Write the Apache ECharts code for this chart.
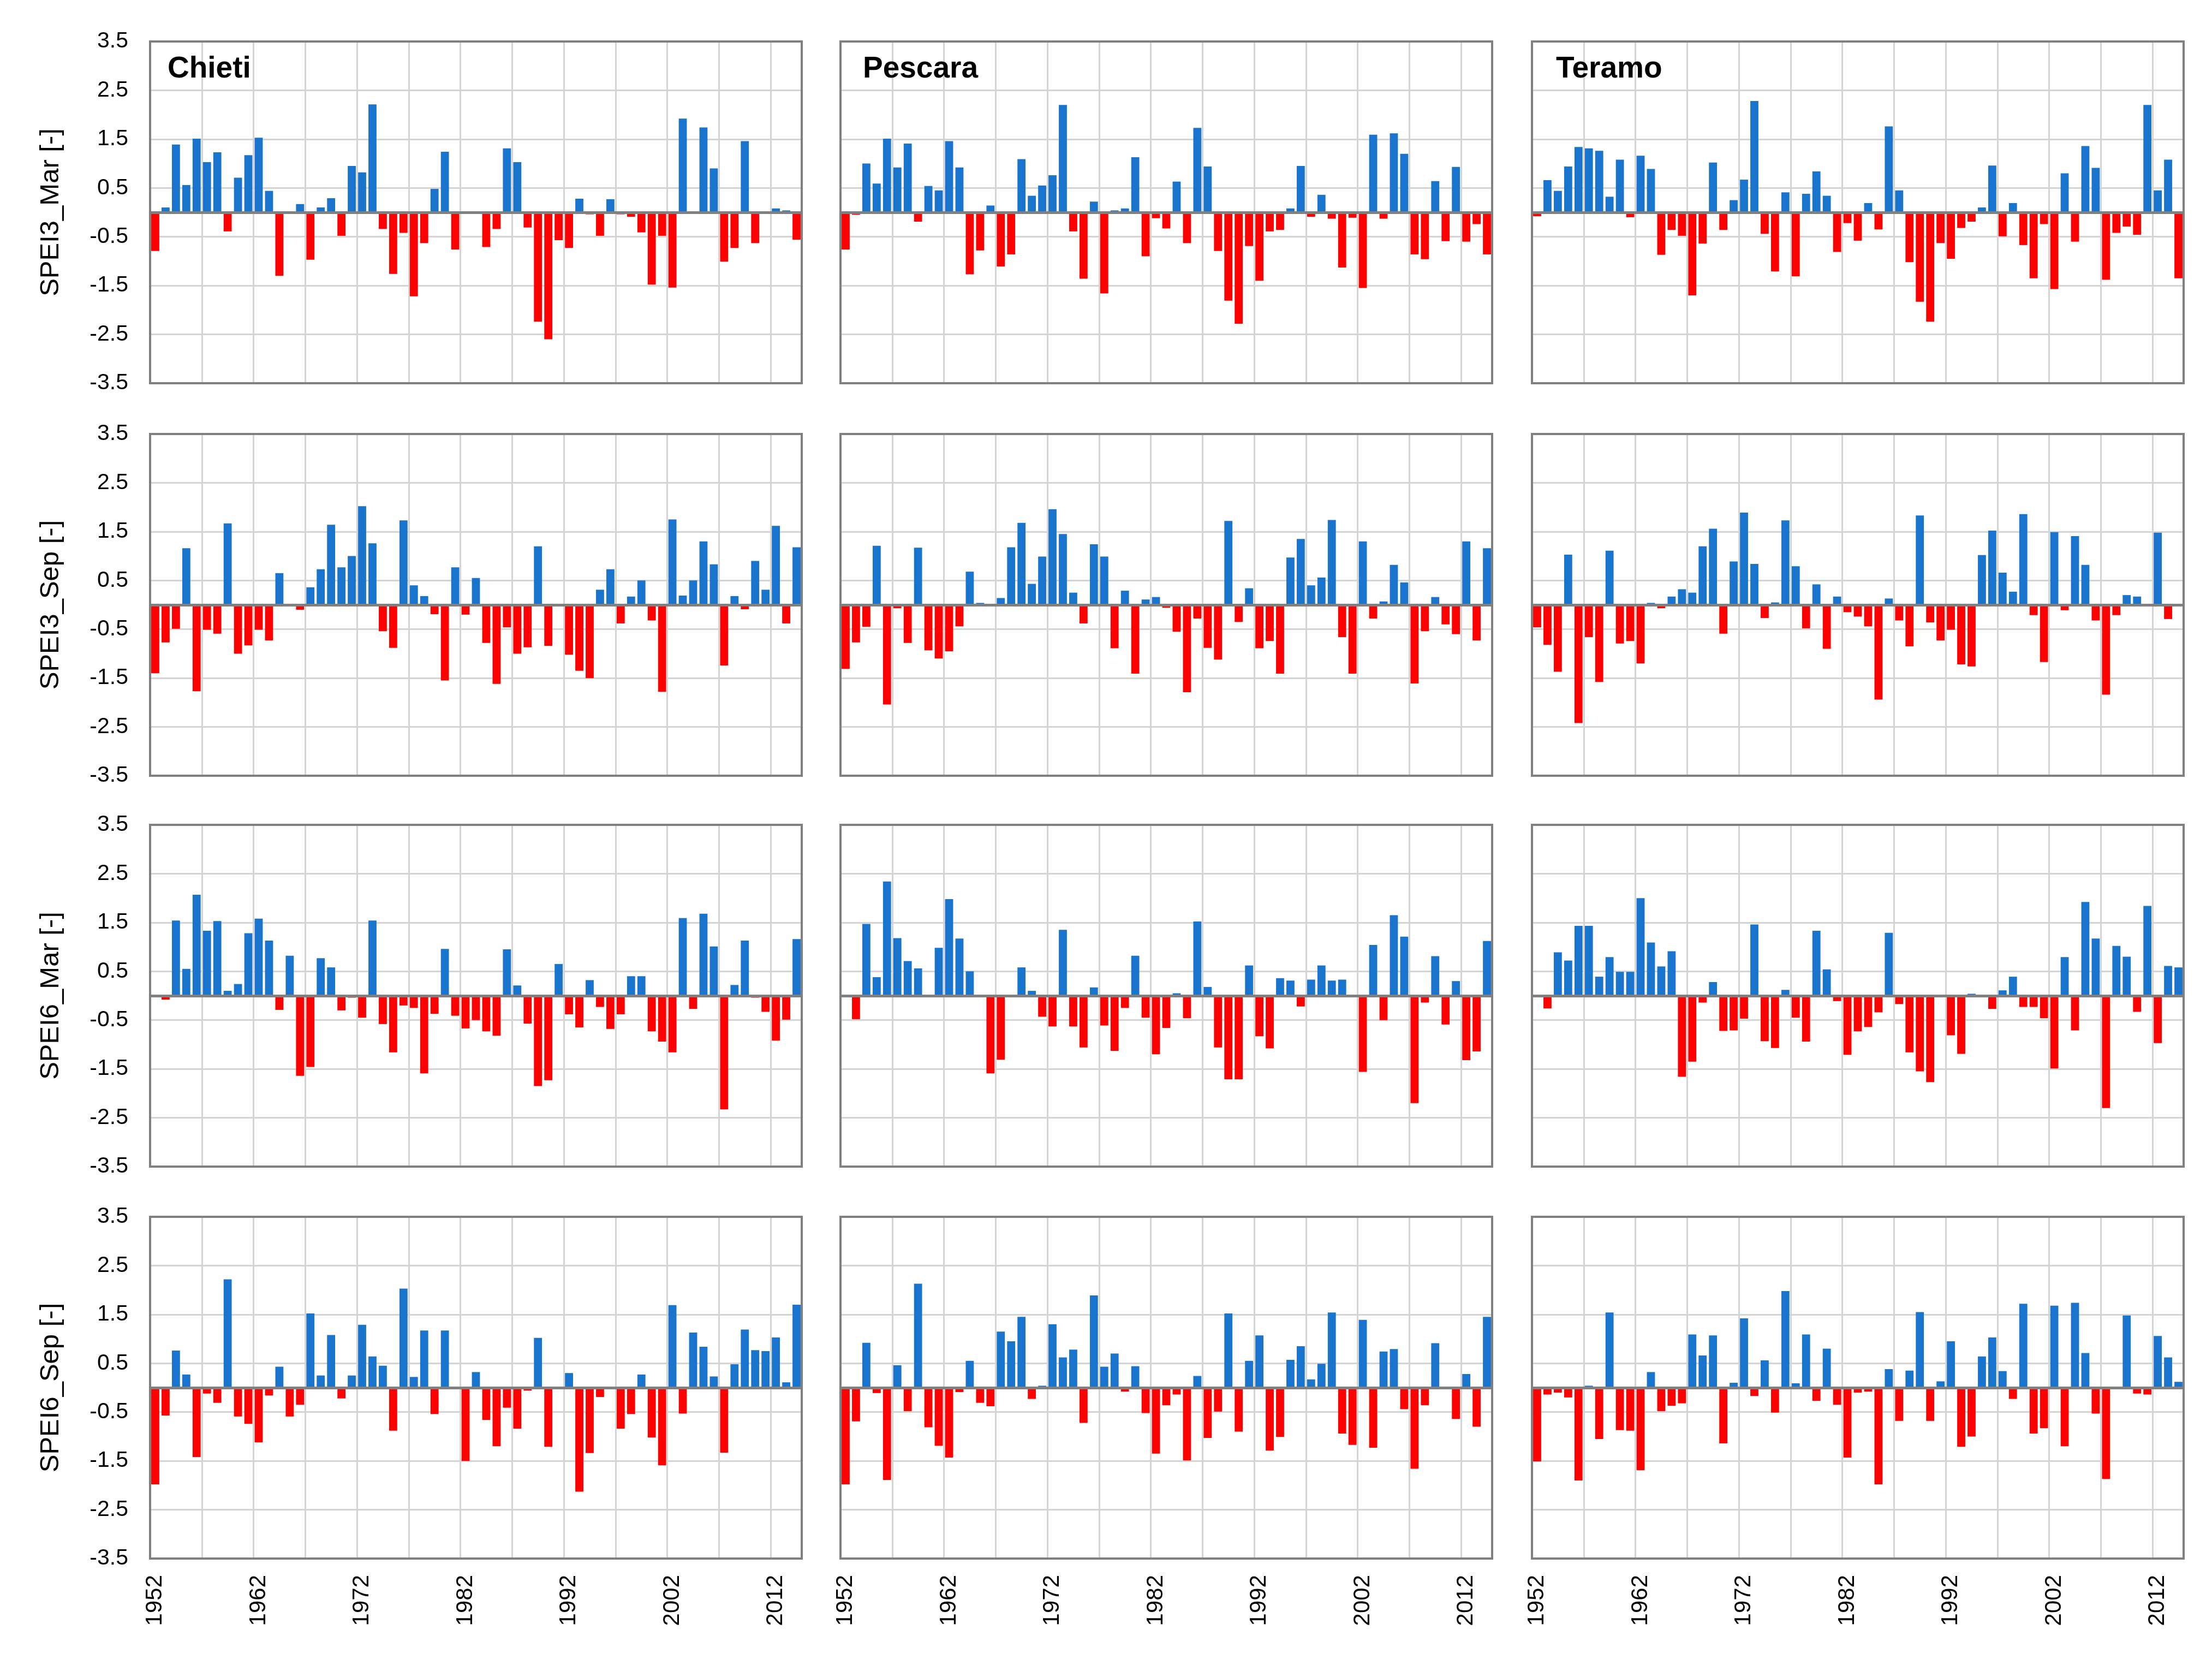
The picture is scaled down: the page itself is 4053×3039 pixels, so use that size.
<!DOCTYPE html>
<html>
<head>
<meta charset="utf-8">
<script src="https://cdn.jsdelivr.net/npm/echarts@6/dist/echarts.min.js"></script>
<style>
  html, body { margin: 0; padding: 0; background: #ffffff; }
  #chart { width: 4053px; height: 3039px; }
</style>
</head>
<body>
<div id="chart"></div>
<script>
// ---------- DATA ----------
const years = ['1952','1953','1954','1955','1956','1957','1958','1959','1960','1961',
  '1962','1963','1964','1965','1966','1967','1968','1969','1970','1971',
  '1972','1973','1974','1975','1976','1977','1978','1979','1980','1981',
  '1982','1983','1984','1985','1986','1987','1988','1989','1990','1991',
  '1992','1993','1994','1995','1996','1997','1998','1999','2000','2001',
  '2002','2003','2004','2005','2006','2007','2008','2009','2010','2011',
  '2012','2013','2014'];

const stations = ['Chieti', 'Pescara', 'Teramo'];
const indexNames = ['SPEI3_Mar [-]', 'SPEI3_Sep [-]', 'SPEI6_Mar [-]', 'SPEI6_Sep [-]'];

const chietiSPEI3Mar = [-0.79,0.10,1.39,0.56,1.51,1.03,1.23,-0.39,0.71,1.17,1.53,0.44,-1.30,-0.03,0.17,-0.97,0.10,0.29,-0.48,0.95,0.82,2.21,-0.34,-1.26,-0.42,-1.72,-0.63,0.48,1.24,-0.76,-0.02,-0.02,-0.71,-0.34,1.31,1.03,-0.31,-2.24,-2.60,-0.57,-0.73,0.28,-0.04,-0.48,0.27,-0.04,-0.09,-0.41,-1.48,-0.48,-1.54,1.92,0,1.74,0.90,-1.01,-0.73,1.46,-0.63,0,0.08,0.04,-0.56];
const pescaraSPEI3Mar = [-0.76,-0.05,1.00,0.59,1.51,0.92,1.41,-0.19,0.54,0.45,1.46,0.92,-1.27,-0.78,0.14,-1.11,-0.86,1.09,0.34,0.55,0.76,2.20,-0.39,-1.36,0.22,-1.66,0.04,0.08,1.13,-0.90,-0.12,-0.33,0.63,-0.63,1.73,0.94,-0.79,-1.81,-2.28,-0.69,-1.40,-0.39,-0.36,0.08,0.95,-0.09,0.36,-0.13,-1.13,-0.11,-1.55,1.59,-0.13,1.62,1.20,-0.86,-0.96,0.64,-0.59,0.93,-0.60,-0.24,-0.86];
const teramoSPEI3Mar = [-0.08,0.66,0.44,0.94,1.34,1.31,1.26,0.32,1.08,-0.10,1.16,0.89,-0.87,-0.36,-0.48,-1.70,-0.64,1.02,-0.36,0.25,0.67,2.28,-0.44,-1.21,0.41,-1.31,0.38,0.84,0.34,-0.81,-0.22,-0.58,0.19,-0.35,1.76,0.45,-1.02,-1.83,-2.24,-0.63,-0.95,-0.32,-0.19,0.10,0.96,-0.49,0.19,-0.67,-1.35,-0.24,-1.57,0.80,-0.60,1.36,0.91,-1.38,-0.42,-0.29,-0.46,2.20,0.45,1.08,-1.35];

const chietiSPEI3Sep = [-1.40,-0.77,-0.49,1.16,-1.77,-0.51,-0.59,1.67,-1.00,-0.83,-0.51,-0.73,0.65,0,-0.10,0.36,0.73,1.64,0.77,1.00,2.02,1.26,-0.54,-0.88,1.73,0.40,0.18,-0.19,-1.55,0.77,-0.20,0.55,-0.78,-1.62,-0.46,-1.00,-0.87,1.20,-0.84,0,-1.02,-1.35,-1.50,0.31,0.73,-0.38,0.17,0.50,-0.32,-1.78,1.75,0.19,0.50,1.30,0.83,-1.24,0.18,-0.09,0.90,0.31,1.62,-0.38,1.18];
const pescaraSPEI3Sep = [-1.31,-0.77,-0.45,1.21,-2.04,-0.07,-0.78,1.17,-0.93,-1.10,-0.95,-0.44,0.68,0.04,0,0.14,1.18,1.68,0.43,0.99,1.96,1.45,0.25,-0.38,1.24,0.99,-0.89,0.29,-1.41,0.11,0.16,-0.06,-0.55,-1.79,-0.28,-0.88,-1.12,1.72,-0.35,0.34,-0.89,-0.74,-1.41,0.97,1.35,0.40,0.56,1.74,-0.66,-1.41,1.30,-0.28,0.07,0.82,0.46,-1.61,-0.54,0.16,-0.40,-0.60,1.30,-0.73,1.16];
const teramoSPEI3Sep = [-0.46,-0.82,-1.37,1.03,-2.42,-0.66,-1.58,1.11,-0.79,-0.74,-1.20,0.04,-0.07,0.17,0.32,0.25,1.20,1.56,-0.59,0.89,1.89,0.84,-0.27,0.05,1.73,0.79,-0.48,0.42,-0.90,0.17,-0.15,-0.24,-0.44,-1.94,0.13,-0.32,-0.85,1.83,-0.36,-0.73,-0.51,-1.22,-1.26,1.02,1.52,0.66,0.27,1.86,-0.21,-1.17,1.49,-0.11,1.41,0.82,-0.32,-1.84,-0.21,0.20,0.17,0,1.48,-0.29,-0.03];

const chietiSPEI6Mar = [0,-0.08,1.54,0.55,2.07,1.33,1.53,0.10,0.24,1.28,1.58,1.13,-0.29,0.82,-1.64,-1.46,0.77,0.58,-0.30,-0.04,-0.45,1.54,-0.58,-1.16,-0.20,-0.25,-1.59,-0.37,0.96,-0.41,-0.67,-0.50,-0.73,-0.82,0.95,0.21,-0.57,-1.85,-1.73,0.65,-0.38,-0.65,0.32,-0.23,-0.68,-0.38,0.40,0.40,-0.73,-0.94,-1.16,1.59,-0.27,1.68,1.01,-2.33,0.22,1.13,-0.04,-0.33,-0.92,-0.49,1.16];
const pescaraSPEI6Mar = [0,-0.48,1.47,0.38,2.34,1.18,0.71,0.56,0,0.98,1.98,1.17,0.50,0,-1.59,-1.31,0,0.58,0.10,-0.43,-0.63,1.35,-0.63,-1.06,0.17,-0.61,-1.13,-0.25,0.82,-0.45,-1.20,-0.66,0.05,-0.46,1.52,0.18,-1.06,-1.71,-1.71,0.62,-0.83,-1.08,0.36,0.31,-0.22,0.33,0.62,0.31,0.33,0,-1.56,1.04,-0.50,1.65,1.21,-2.20,-0.14,0.81,-0.59,0.30,-1.32,-1.14,1.12];
const teramoSPEI6Mar = [0,-0.26,0.89,0.72,1.43,1.43,0.39,0.79,0.49,0.49,2.00,1.09,0.60,0.91,-1.66,-1.35,-0.14,0.28,-0.72,-0.71,-0.47,1.46,-0.93,-1.07,0.12,-0.45,-0.94,1.33,0.54,-0.11,-1.21,-0.73,-0.64,-0.34,1.29,-0.17,-1.16,-1.55,-1.77,0,-0.81,-1.19,0.04,0,-0.27,0.11,0.39,-0.23,-0.23,-0.46,-1.49,0.79,-0.71,1.92,1.17,-2.30,1.02,0.80,-0.33,1.84,-0.97,0.61,0.58];

const chietiSPEI6Sep = [-1.98,-0.57,0.76,0.27,-1.42,-0.12,-0.31,2.22,-0.59,-0.74,-1.12,-0.16,0.43,-0.59,-0.35,1.52,0.25,1.08,-0.22,0.25,1.29,0.64,0.45,-0.88,2.03,0.22,1.17,-0.54,1.17,-0.03,-1.50,0.32,-0.66,-1.20,-0.41,-0.84,-0.06,1.02,-1.21,0,0.30,-2.13,-1.34,-0.19,0,-0.84,-0.54,0.27,-1.02,-1.59,1.69,-0.53,1.13,0.84,0.23,-1.33,0.48,1.19,0.77,0.75,1.03,0.11,1.70];
const pescaraSPEI6Sep = [-1.98,-0.69,0.92,-0.11,-1.89,0.46,-0.48,2.13,-0.81,-1.19,-1.43,-0.09,0.55,-0.31,-0.38,1.15,0.95,1.45,-0.23,0.04,1.30,0.62,0.78,-0.72,1.89,0.43,0.70,-0.08,0.44,-0.52,-1.35,-0.36,-0.14,-1.49,0.24,-1.03,-0.49,1.52,-0.90,0.55,1.07,-1.29,-1.01,0.57,0.85,0.17,0.49,1.54,-0.94,-1.17,1.39,-1.23,0.74,0.79,-0.44,-1.66,-0.36,0.91,0,-0.64,0.28,-0.80,1.45];
const teramoSPEI6Sep = [-1.51,-0.14,-0.10,-0.20,-1.90,0.04,-1.05,1.54,-0.87,-0.88,-1.69,0.32,-0.48,-0.37,-0.32,1.09,0.66,1.07,-1.14,0.10,1.42,-0.17,0.56,-0.51,1.98,0.09,1.09,-0.27,0.80,-0.35,-1.43,-0.10,-0.08,-1.98,0.38,-0.68,0.35,1.55,-0.68,0.13,0.95,-1.21,-1.00,0.64,1.03,0.34,-0.23,1.72,-0.94,-0.83,1.68,-1.20,1.74,0.71,-0.53,-1.87,0.02,1.48,-0.12,-0.14,1.06,0.62,0.12];

const panelData = [
  [chietiSPEI3Mar, pescaraSPEI3Mar, teramoSPEI3Mar],
  [chietiSPEI3Sep, pescaraSPEI3Sep, teramoSPEI3Sep],
  [chietiSPEI6Mar, pescaraSPEI6Mar, teramoSPEI6Mar],
  [chietiSPEI6Sep, pescaraSPEI6Sep, teramoSPEI6Sep]
];

// ---------- LAYOUT / STYLE ----------
const FONT = 'Liberation Sans, Arial, sans-serif';
const BLUE = '#1874cd';
const RED = '#ff0000';
const GRIDLINE = '#d4d4d4';
const FRAME = '#808080';
const colLeft = [275, 1540, 2807];
const rowTop = [76, 795, 1511, 2229];
const plotW = 1194, plotH = 626;

const grids = [], xAxes = [], yAxes = [], series = [];
let k = 0;
for (let r = 0; r < 4; r++) {
  for (let c = 0; c < 3; c++) {
    grids.push({
      left: colLeft[c], top: rowTop[r], width: plotW, height: plotH,
      show: true, borderColor: FRAME, borderWidth: 4, backgroundColor: 'transparent', z: 10
    });
    xAxes.push({
      gridIndex: k, type: 'category', data: years, boundaryGap: true,
      axisLine: { show: false }, axisTick: { show: false },
      axisLabel: { show: r === 3, interval: 9, rotate: 90, fontSize: 42, color: '#000', margin: 30, fontFamily: FONT },
      splitLine: { show: true, interval: (i) => i > 0 && i % 5 === 0, lineStyle: { color: GRIDLINE, width: 3 } }
    });
    yAxes.push({
      gridIndex: k, type: 'value', min: -3.5, max: 3.5, interval: 1,
      axisLine: { show: false }, axisTick: { show: false },
      axisLabel: { show: c === 0, fontSize: 41, color: '#000', margin: 40, fontFamily: FONT,
        formatter: (v) => v.toFixed(1) },
      splitLine: { show: true, showMinLine: false, showMaxLine: false, lineStyle: { color: GRIDLINE, width: 3 } },
      name: c === 0 ? indexNames[r] : '', nameLocation: 'middle', nameGap: 157,
      nameTextStyle: { fontSize: 49, color: '#000', fontFamily: FONT }
    });
    series.push({
      type: 'bar', xAxisIndex: k, yAxisIndex: k,
      data: panelData[r][c],
      barCategoryGap: '22%',
      itemStyle: { color: (p) => (p.value >= 0 ? BLUE : RED) },
      markLine: {
        silent: true, symbol: 'none', label: { show: false },
        lineStyle: { color: FRAME, width: 5, type: 'solid' },
        data: [{ yAxis: 0 }]
      }
    });
    k++;
  }
}

const titleLeft = [307, 1581, 2851];
const titles = stations.map((s, i) => ({
  text: s, left: titleLeft[i], top: 99, padding: 0,
  textStyle: { fontSize: 55, fontWeight: 'bold', color: '#000', fontFamily: FONT }
}));

const chart = echarts.init(document.getElementById('chart'), null, { renderer: 'canvas' });
chart.setOption({
  backgroundColor: '#ffffff',
  animation: false,
  title: titles,
  grid: grids,
  xAxis: xAxes,
  yAxis: yAxes,
  series: series
});
</script>
</body>
</html>
